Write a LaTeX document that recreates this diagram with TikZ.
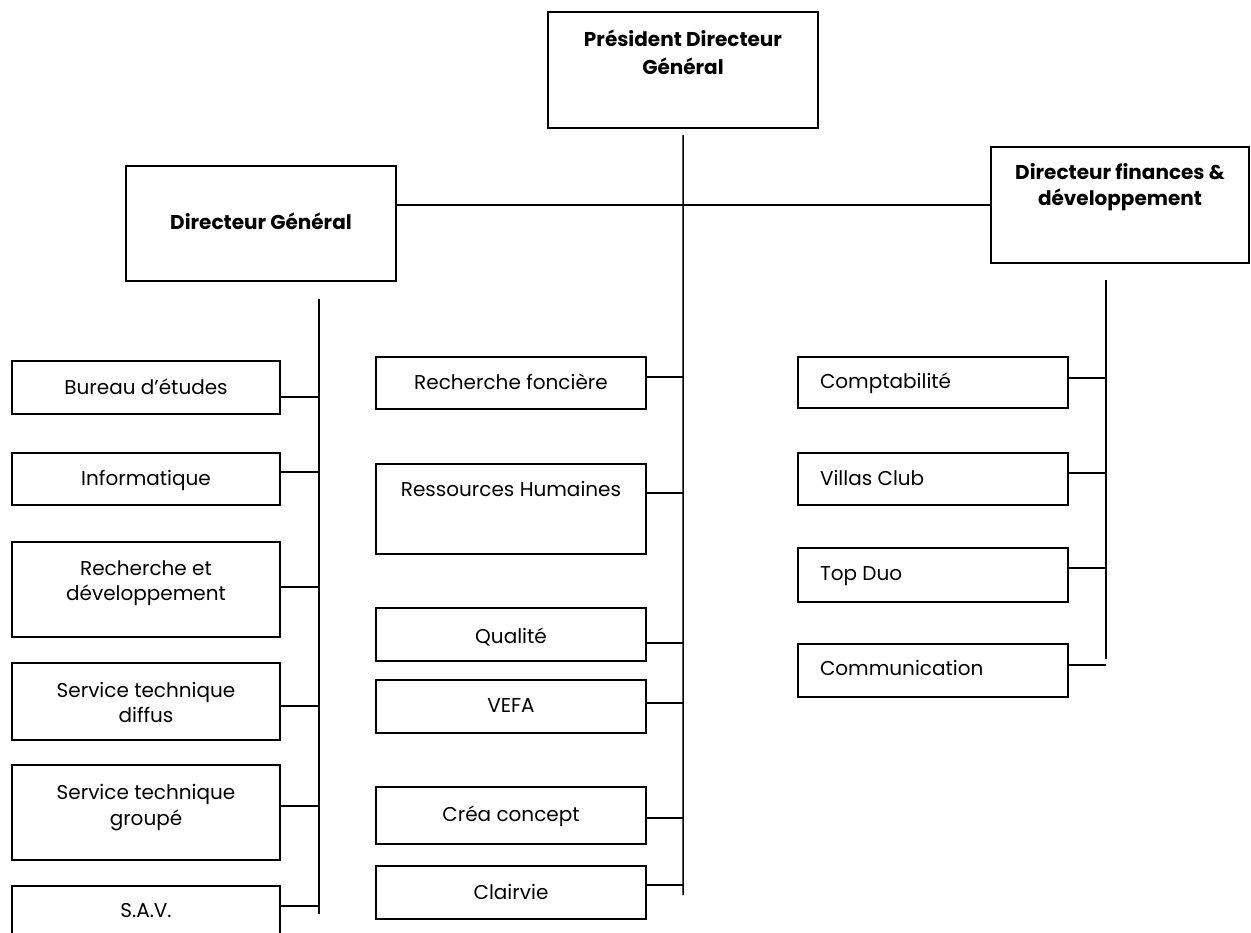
\documentclass[tikz,border=0pt]{standalone}
\usepackage{fontspec}
\setmainfont{Poppins}
\usetikzlibrary{calc}
\tikzset{
  box/.style={draw, line width=1.5bp, inner sep=0pt, outer sep=0pt, anchor=north west},
  link/.style={line width=1.5bp},
}
\newcommand\obox[8]{% name, x, y, w, h, pad, align, text
  \node[box] (#1) at (#2,#3) {\parbox[c][#5bp][t]{#4bp}{#7\vspace*{#6bp}#8\par}};}
\newcommand\ctr{\centering\fontsize{20bp}{25bp}\selectfont}
\newcommand\ctrw{\centering\fontsize{20bp}{26bp}\selectfont}
\newcommand\lft{\raggedright\leftskip=22bp\fontsize{20bp}{25bp}\selectfont}
\newcommand\bld{\centering\bfseries\fontsize{20bp}{27bp}\selectfont}
\begin{document}
\begin{tikzpicture}[x=1bp,y=-1bp]
\useasboundingbox (0,0) rectangle (1251,933);
% top level
\obox{pdg}{548}{12}{270}{116}{15}{\centering\bfseries\fontsize{20bp}{28bp}\selectfont}{\strut Président Directeur\\\strut Général}
\obox{dg}{126}{166}{270}{115}{45}{\bld}{\strut Directeur Général}
\obox{dfd}{991}{147}{258}{116}{14}{\centering\bfseries\fontsize{20bp}{26bp}\selectfont}{\strut Directeur finances \&\\\strut développement}
% left column
\obox{be}{12}{361}{268}{53}{16}{\ctr}{\strut Bureau d’études}
\obox{inf}{12}{453}{268}{52}{15}{\ctr}{\strut Informatique}
\obox{rd}{12}{542}{268}{95}{16}{\ctr}{\strut Recherche et\\\strut développement}
\obox{std}{12}{663}{268}{77}{17}{\ctr}{\strut Service technique\\\strut diffus}
\obox{stg}{12}{765}{268}{95}{16}{\ctrw}{\strut Service technique\\\strut groupé}
\obox{sav}{12}{886}{268}{60}{14}{\ctr}{\strut S.A.V.}
% middle column
\obox{rf}{376}{357}{270}{52}{15}{\ctr}{\strut Recherche foncière}
\obox{rh}{376}{464}{270}{90}{15}{\ctr}{\strut Ressources Humaines}
\obox{qu}{376}{608}{270}{53}{18}{\ctr}{\strut Qualité}
\obox{ve}{376}{680}{270}{53}{15}{\ctr}{\strut VEFA}
\obox{cc}{376}{787}{270}{57}{17}{\ctr}{\strut Créa concept}
\obox{cl}{376}{866}{270}{53}{16}{\ctr}{\strut Clairvie}
% right column
\obox{co}{798}{357}{270}{51}{14}{\lft}{\strut Comptabilité}
\obox{vc}{798}{453}{270}{52}{15}{\lft}{\strut Villas Club}
\obox{td}{798}{548}{270}{54}{15}{\lft}{\strut Top Duo}
\obox{cm}{798}{644}{270}{53}{14}{\lft}{\strut Communication}
% buses
\coordinate (mtop) at ($(pdg.south)+(0,7)$);
\coordinate (mbot) at (683,895);
\coordinate (ltop) at (319,299);
\coordinate (lbot) at (319,914);
\coordinate (rtop) at (1106,280);
\coordinate (rbot) at (1106,659);
\draw[link] (mtop) -- (mbot);
\draw[link] (ltop) -- (lbot);
\draw[link] (rtop) -- (rbot);
\draw[link] (dg.east |- 0,205) -- (dfd.west |- 0,205);
% connectors
\foreach \n/\o in {be/36,inf/19,rd/45,std/43,stg/41,sav/20}
  \draw[link] ([yshift=-\o bp]\n.north east) -- ([yshift=-\o bp]\n.north east -| ltop);
\foreach \n/\o in {rf/20,rh/29,qu/35,ve/23,cc/31,cl/19}
  \draw[link] ([yshift=-\o bp]\n.north east) -- ([yshift=-\o bp]\n.north east -| mtop);
\foreach \n/\o in {co/21,vc/20,td/20,cm/21}
  \draw[link] ([yshift=-\o bp]\n.north east) -- ([yshift=-\o bp]\n.north east -| rtop);
\end{tikzpicture}
\end{document}
